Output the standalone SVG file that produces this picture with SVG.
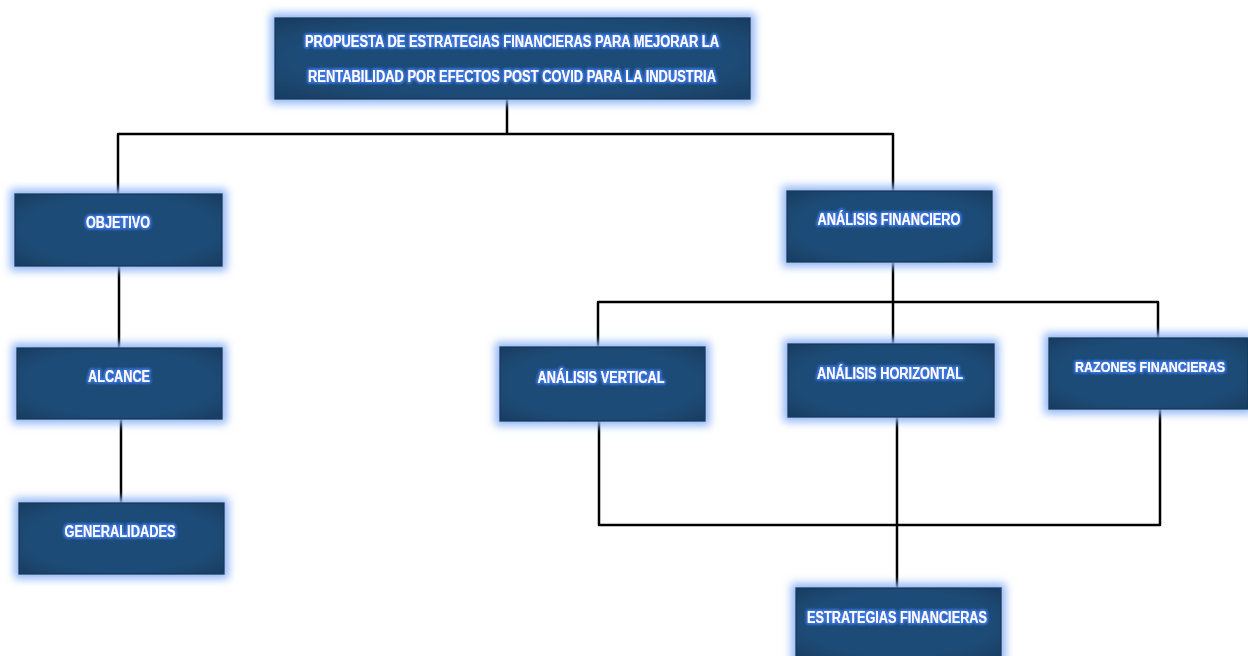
<svg xmlns="http://www.w3.org/2000/svg" width="1248" height="656" viewBox="0 0 1248 656">
<defs>
<filter id="glow" x="-20%" y="-40%" width="140%" height="180%">
<feMorphology in="SourceAlpha" operator="dilate" radius="4" result="d"/>
<feGaussianBlur in="d" stdDeviation="4" result="b"/>
<feFlood flood-color="#8fb5f6"/>
<feComposite in2="b" operator="in" result="g"/>
<feMerge><feMergeNode in="g"/><feMergeNode in="SourceGraphic"/></feMerge>
</filter>
<filter id="tglow" x="-5%" y="-50%" width="110%" height="200%">
<feMorphology in="SourceAlpha" operator="dilate" radius="1" result="d"/>
<feGaussianBlur in="d" stdDeviation="1.5" result="b"/>
<feFlood flood-color="#3d78e0"/>
<feComposite in2="b" operator="in" result="g"/>
<feMerge><feMergeNode in="g"/><feMergeNode in="g"/><feMergeNode in="SourceGraphic"/></feMerge>
</filter>
<radialGradient id="fill" cx="50%" cy="50%" r="75%">
<stop offset="0.6" stop-color="#1f4c77"/>
<stop offset="1" stop-color="#163a5e"/>
</radialGradient>
</defs>
<style>
.box{fill:url(#fill);stroke:#183a5b;stroke-width:1.5;filter:url(#glow)}
.lbl{font-family:"Liberation Sans",Arial,sans-serif;font-weight:bold;font-size:16px;fill:#ffffff;text-anchor:middle;filter:url(#tglow)}
.sm{font-size:15px}
.con{fill:none;stroke:#000000;stroke-width:2.5;stroke-linejoin:round}
</style>
<rect width="1248" height="656" fill="#ffffff"/>
<g id="connectors">
<path class="con" d="M507,99 V134"/>
<path class="con" d="M118,194 V134 H893 V191"/>
<path class="con" d="M119,266 V348"/>
<path class="con" d="M121,419 V503"/>
<path class="con" d="M893,262 V344"/>
<path class="con" d="M598,347 V302 H1158 V338"/>
<path class="con" d="M599,421 V525 H1160 V409"/>
<path class="con" d="M897,417 V588"/>
</g>
<g id="n-propuesta">
<rect class="box" x="275" y="18" width="475" height="81"/>
<text class="lbl" x="512" y="47" textLength="414" lengthAdjust="spacingAndGlyphs">PROPUESTA DE ESTRATEGIAS FINANCIERAS PARA MEJORAR LA</text>
<text class="lbl" x="512" y="82" textLength="408" lengthAdjust="spacingAndGlyphs">RENTABILIDAD POR EFECTOS POST COVID PARA LA INDUSTRIA</text>
</g>
<g id="n-objetivo">
<rect class="box" x="15" y="194" width="207" height="72"/>
<text class="lbl" x="118" y="228" textLength="64" lengthAdjust="spacingAndGlyphs">OBJETIVO</text>
</g>
<g id="n-alcance">
<rect class="box" x="17" y="348" width="205" height="71"/>
<text class="lbl" x="119" y="382" textLength="62" lengthAdjust="spacingAndGlyphs">ALCANCE</text>
</g>
<g id="n-generalidades">
<rect class="box" x="19" y="503" width="205" height="71"/>
<text class="lbl" x="120" y="537" textLength="111" lengthAdjust="spacingAndGlyphs">GENERALIDADES</text>
</g>
<g id="n-analisis-financiero">
<rect class="box" x="787" y="191" width="205" height="71"/>
<text class="lbl" x="889" y="225" textLength="143" lengthAdjust="spacingAndGlyphs">ANÁLISIS FINANCIERO</text>
</g>
<g id="n-analisis-vertical">
<rect class="box" x="500" y="347" width="205" height="74"/>
<text class="lbl" x="601" y="383" textLength="127" lengthAdjust="spacingAndGlyphs">ANÁLISIS VERTICAL</text>
</g>
<g id="n-analisis-horizontal">
<rect class="box" x="788" y="344" width="206" height="73"/>
<text class="lbl" x="890" y="379" textLength="146" lengthAdjust="spacingAndGlyphs">ANÁLISIS HORIZONTAL</text>
</g>
<g id="n-razones">
<rect class="box" x="1049" y="338" width="199" height="71"/>
<text class="lbl sm" x="1150" y="372" textLength="150" lengthAdjust="spacingAndGlyphs">RAZONES FINANCIERAS</text>
</g>
<g id="n-estrategias">
<rect class="box" x="796" y="588" width="205" height="71"/>
<text class="lbl" x="897" y="623" textLength="180" lengthAdjust="spacingAndGlyphs">ESTRATEGIAS FINANCIERAS</text>
</g>
</svg>
